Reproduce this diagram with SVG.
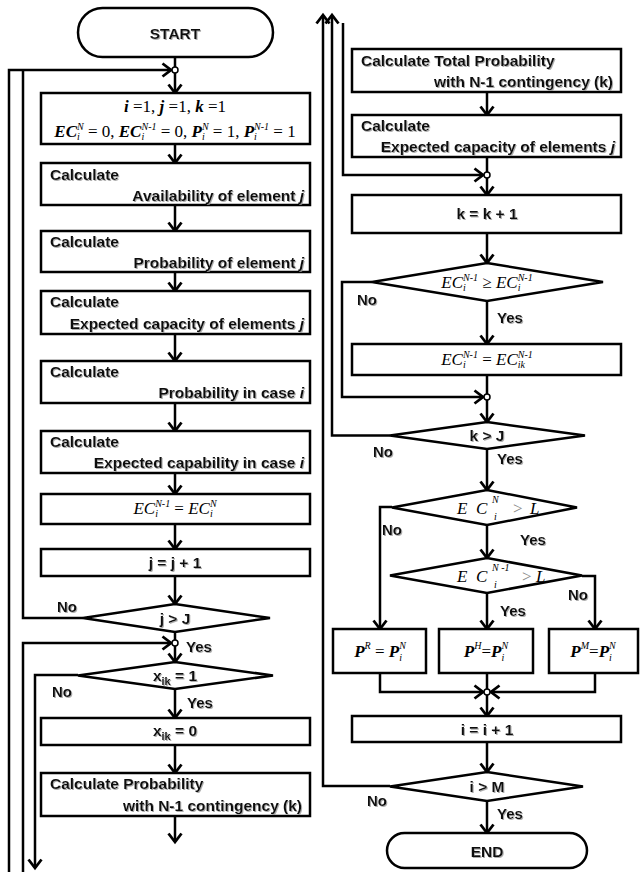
<svg xmlns="http://www.w3.org/2000/svg" width="640" height="872" viewBox="0 0 640 872">
<style>
.bx{fill:#fff;stroke:#000;stroke-width:2.5}
.ln{fill:none;stroke:#000;stroke-width:2.5}
.ar{marker-end:url(#ah)}
.jn{fill:#fff;stroke:#000;stroke-width:1.5}
.t{font-family:"Liberation Sans",Arial,sans-serif;font-weight:bold;font-size:15.5px;fill:#111;filter:url(#sh)}
.c{text-anchor:middle}
.e{text-anchor:end}
.lb{font-family:"Liberation Sans",Arial,sans-serif;font-weight:bold;font-size:15px;fill:#111;filter:url(#sh)}
.m{font-family:"Liberation Serif","Times New Roman",serif;font-size:17px;fill:#000}
.v{font-style:italic}
.vb{font-style:italic;font-weight:bold}
.s{font-size:10px;font-style:italic}
.g{fill:#888}
</style>
<defs>
<marker id="ah" markerUnits="userSpaceOnUse" markerWidth="16" markerHeight="16" refX="10" refY="7" orient="auto" overflow="visible">
<path d="M1.5,0.5 L10,7 L1.5,13.5" fill="none" stroke="#000" stroke-width="2.8"/>
</marker>
<filter id="sh" x="-5%" y="-20%" width="110%" height="150%">
<feDropShadow dx="1" dy="1" stdDeviation="0.5" flood-color="#999" flood-opacity="0.8"/>
</filter>
</defs>

<g id="connectors">
<path class="ln" d="M175,57 V67"/>
<path class="ln ar" d="M9,872 V70 H171"/>
<path class="ln" d="M83,618 H23 V70"/>
<path class="ln ar" d="M175,73 V93"/>
<path class="ln ar" d="M175,144 V163"/>
<path class="ln ar" d="M175,205 V231"/>
<path class="ln ar" d="M175,272 V291"/>
<path class="ln ar" d="M175,334 V361"/>
<path class="ln ar" d="M175,403 V431"/>
<path class="ln ar" d="M175,473 V494"/>
<path class="ln ar" d="M175,524 V549"/>
<path class="ln ar" d="M175,576 V604"/>
<path class="ln" d="M175,632 V640"/>
<path class="ln ar" d="M23,872 V643 H171"/>
<path class="ln ar" d="M175,646 V662"/>
<path class="ln ar" d="M78,675 H35 V868"/>
<path class="ln ar" d="M175,689 V718"/>
<path class="ln ar" d="M175,745 V773"/>
<path class="ln ar" d="M175,816 V842"/>
<circle class="jn" cx="175" cy="70" r="3"/>
<circle class="jn" cx="175" cy="643" r="3"/>

<path class="ln ar" d="M390,786 H323 V15"/>
<path class="ln ar" d="M390,435.5 H332 V15"/>
<path class="ln ar" d="M343,23 V175 H483"/>
<path class="ln ar" d="M487,92 V115"/>
<path class="ln" d="M487,157 V172"/>
<path class="ln ar" d="M487,178 V195"/>
<path class="ln ar" d="M487,233 V263"/>
<path class="ln ar" d="M372,282 H342 V397 H483"/>
<path class="ln ar" d="M487,301 V344"/>
<path class="ln" d="M487,375 V394"/>
<path class="ln ar" d="M487,400 V422"/>
<path class="ln ar" d="M487,449 V490"/>
<path class="ln ar" d="M392,507 H380 V629"/>
<path class="ln ar" d="M487,525 V558"/>
<path class="ln ar" d="M582,576 H595 V629"/>
<path class="ln ar" d="M487,593 V629"/>
<path class="ln ar" d="M380,673 V692 H483"/>
<path class="ln ar" d="M595,673 V692 H491"/>
<path class="ln" d="M487,673 V689"/>
<path class="ln ar" d="M487,695 V716"/>
<path class="ln ar" d="M487,742 V772"/>
<path class="ln ar" d="M487,801 V833"/>
<circle class="jn" cx="487" cy="175" r="3"/>
<circle class="jn" cx="487" cy="397" r="3"/>
<circle class="jn" cx="487" cy="692" r="3"/>

<text class="lb" x="57" y="612">No</text>
<text class="lb" x="186" y="652">Yes</text>
<text class="lb" x="52" y="697">No</text>
<text class="lb" x="187" y="708">Yes</text>
<text class="lb" x="357" y="305">No</text>
<text class="lb" x="497" y="323">Yes</text>
<text class="lb" x="373" y="457">No</text>
<text class="lb" x="497" y="464">Yes</text>
<text class="lb" x="382" y="535">No</text>
<text class="lb" x="520" y="545">Yes</text>
<text class="lb" x="568" y="600">No</text>
<text class="lb" x="500" y="616">Yes</text>
<text class="lb" x="367" y="806">No</text>
<text class="lb" x="497" y="819">Yes</text>
</g>

<g id="start">
<rect class="bx" x="78" y="8" width="195" height="49" rx="24.5"/>
<text class="t c" x="175" y="39" font-size="16.5">START</text>
</g>

<g id="init">
<rect class="bx" x="41" y="93" width="269" height="51"/>
<text class="m c" x="175" y="112"><tspan class="vb">i</tspan> =1, <tspan class="vb">j</tspan> =1, <tspan class="vb">k</tspan> =1</text>
<text class="m c" x="175" y="137"><tspan class="vb">EC</tspan><tspan class="s" dy="-7">N</tspan><tspan class="s" dx="-6.7" dy="10">i</tspan><tspan dx="3.9" dy="-3"> = 0, </tspan><tspan class="vb">EC</tspan><tspan class="s" dy="-7">N-1</tspan><tspan class="s" dx="-15" dy="10">i</tspan><tspan dx="12.2" dy="-3"> = 0, </tspan><tspan class="vb">P</tspan><tspan class="s" dy="-7">N</tspan><tspan class="s" dx="-6.7" dy="10">i</tspan><tspan dx="3.9" dy="-3"> = 1, </tspan><tspan class="vb">P</tspan><tspan class="s" dy="-7">N-1</tspan><tspan class="s" dx="-15" dy="10">i</tspan><tspan dx="12.2" dy="-3"> = 1</tspan></text>
</g>

<g id="availability">
<rect class="bx" x="41" y="163" width="269" height="42"/>
<text class="t" x="50" y="180">Calculate</text>
<text class="t e" x="304" y="201">Availability of element  <tspan font-style="italic">j</tspan></text>
</g>

<g id="probability-element">
<rect class="bx" x="41" y="231" width="269" height="41"/>
<text class="t" x="50" y="247">Calculate</text>
<text class="t e" x="304" y="268">Probability of element  <tspan font-style="italic">j</tspan></text>
</g>

<g id="expected-capacity">
<rect class="bx" x="41" y="291" width="269" height="43"/>
<text class="t" x="50" y="307">Calculate</text>
<text class="t e" x="304" y="329">Expected capacity of elements  <tspan font-style="italic">j</tspan></text>
</g>

<g id="probability-case">
<rect class="bx" x="41" y="361" width="269" height="42"/>
<text class="t" x="50" y="377">Calculate</text>
<text class="t e" x="304" y="398">Probability in case  <tspan font-style="italic">i</tspan></text>
</g>

<g id="expected-capability">
<rect class="bx" x="41" y="431" width="269" height="42"/>
<text class="t" x="50" y="447">Calculate</text>
<text class="t e" x="304" y="468">Expected capability in case  <tspan font-style="italic">i</tspan></text>
</g>

<g id="assign-ec">
<rect class="bx" x="41" y="494" width="269" height="30"/>
<text class="m c" x="175" y="514"><tspan class="v">EC</tspan><tspan class="s" dy="-7">N-1</tspan><tspan class="s" dx="-15" dy="10">i</tspan><tspan dx="12.2" dy="-3"> = </tspan><tspan class="v">EC</tspan><tspan class="s" dy="-7">N</tspan><tspan class="s" dx="-6.7" dy="10">i</tspan><tspan dx="3.9" dy="-3"> </tspan></text>
</g>

<g id="j-inc">
<rect class="bx" x="41" y="549" width="269" height="27"/>
<text class="t c" x="175" y="568">j = j + 1</text>
</g>

<g id="j-check">
<polygon class="bx" points="175,604 270,618 175,632 83,618"/>
<text class="t c" x="175" y="624">j &gt; J</text>
</g>

<g id="x-check">
<polygon class="bx" points="175,662 273,675.5 175,689 78,675.5"/>
<text class="t c" x="175" y="681">x<tspan font-size="11" dy="4">ik</tspan><tspan dy="-4"> = 1</tspan></text>
</g>

<g id="x-zero">
<rect class="bx" x="41" y="718" width="269" height="27"/>
<text class="t c" x="175" y="736">x<tspan font-size="11" dy="4">ik</tspan><tspan dy="-4"> = 0</tspan></text>
</g>

<g id="prob-n1">
<rect class="bx" x="41" y="773" width="269" height="43"/>
<text class="t" x="50" y="789">Calculate Probability</text>
<text class="t e" x="302" y="811">with N-1 contingency  (k)</text>
</g>

<g id="total-prob">
<rect class="bx" x="352" y="49" width="269" height="43"/>
<text class="t" x="361" y="66">Calculate Total Probability</text>
<text class="t e" x="613" y="87">with N-1 contingency  (k)</text>
</g>

<g id="expected-capacity-2">
<rect class="bx" x="352" y="115" width="269" height="42"/>
<text class="t" x="361" y="131">Calculate</text>
<text class="t e" x="615" y="152">Expected capacity of elements  <tspan font-style="italic">j</tspan></text>
</g>

<g id="k-inc">
<rect class="bx" x="352" y="195" width="269" height="38"/>
<text class="t c" x="487" y="219">k = k + 1</text>
</g>

<g id="ec-compare">
<polygon class="bx" points="487,263 603,282 487,301 372,282"/>
<text class="m c" x="487" y="288"><tspan class="v">EC</tspan><tspan class="s" dy="-7">N-1</tspan><tspan class="s" dx="-15" dy="10">i</tspan><tspan dx="12.2" dy="-3"> ≥ </tspan><tspan class="v">EC</tspan><tspan class="s" dy="-7">N-1</tspan><tspan class="s" dx="-15" dy="10">i</tspan><tspan dx="12.2" dy="-3"> </tspan></text>
</g>

<g id="ec-assign-ik">
<rect class="bx" x="352" y="344" width="269" height="31"/>
<text class="m c" x="487" y="365"><tspan class="v">EC</tspan><tspan class="s" dy="-7">N-1</tspan><tspan class="s" dx="-15" dy="10">i</tspan><tspan dx="12.2" dy="-3"> = </tspan><tspan class="v">EC</tspan><tspan class="s" dy="-7">N-1</tspan><tspan class="s" dx="-15" dy="10">ik</tspan><tspan dx="7.7" dy="-3"> </tspan></text>
</g>

<g id="k-check">
<polygon class="bx" points="487,422 585,435.5 487,449 390,435.5"/>
<text class="t c" x="487" y="441">k &gt; J</text>
</g>

<g id="ecn-check">
<polygon class="bx" points="487,490 577,507.5 487,525 392,507.5"/>
<text class="m" y="514" font-size="18"><tspan class="v" x="457">E</tspan><tspan class="v" x="476">C</tspan><tspan class="s" x="492" y="503">N</tspan><tspan class="s" x="494" y="520" font-style="normal">i</tspan><tspan class="g" x="513" y="514">&gt;</tspan><tspan class="v" x="530" y="514">L</tspan></text>
</g>

<g id="ecn1-check">
<polygon class="bx" points="487,558 582,575.5 487,593 390,575.5"/>
<text class="m" y="582" font-size="18"><tspan class="v" x="457">E</tspan><tspan class="v" x="476">C</tspan><tspan class="s" x="492" y="571">N -1</tspan><tspan class="s" x="494" y="588" font-style="normal">i</tspan><tspan class="g" x="522" y="582">&gt;</tspan><tspan class="v" x="536" y="582">L</tspan></text>
</g>

<g id="pr">
<rect class="bx" x="333" y="629" width="93" height="44"/>
<text class="m c" x="380" y="657" font-size="18"><tspan class="vb">P</tspan><tspan class="s" dy="-8">R</tspan><tspan dy="8"> = </tspan><tspan class="vb">P</tspan><tspan class="s" dy="-8">N</tspan><tspan class="s" dx="-6.7" dy="12">i</tspan><tspan dx="3.9" dy="-4"> </tspan></text>
</g>

<g id="ph">
<rect class="bx" x="439" y="629" width="94" height="44"/>
<text class="m c" x="486" y="657" font-size="18"><tspan class="vb">P</tspan><tspan class="s" dy="-8">H</tspan><tspan dy="8">=</tspan><tspan class="vb">P</tspan><tspan class="s" dy="-8">N</tspan><tspan class="s" dx="-6.7" dy="12">i</tspan><tspan dx="3.9" dy="-4"> </tspan></text>
</g>

<g id="pm">
<rect class="bx" x="549" y="629" width="89" height="44"/>
<text class="m c" x="593" y="657" font-size="18"><tspan class="vb">P</tspan><tspan class="s" dy="-8">M</tspan><tspan dy="8">=</tspan><tspan class="vb">P</tspan><tspan class="s" dy="-8">N</tspan><tspan class="s" dx="-6.7" dy="12">i</tspan><tspan dx="3.9" dy="-4"> </tspan></text>
</g>

<g id="i-inc">
<rect class="bx" x="352" y="716" width="269" height="26"/>
<text class="t c" x="487" y="735">i = i + 1</text>
</g>

<g id="i-check">
<polygon class="bx" points="487,772 583,786.5 487,801 390,786.5"/>
<text class="t c" x="487" y="792">i &gt; M</text>
</g>

<g id="end">
<rect class="bx" x="387" y="833" width="200" height="35" rx="17.5"/>
<text class="t c" x="487" y="857" font-size="16.5">END</text>
</g>
</svg>
